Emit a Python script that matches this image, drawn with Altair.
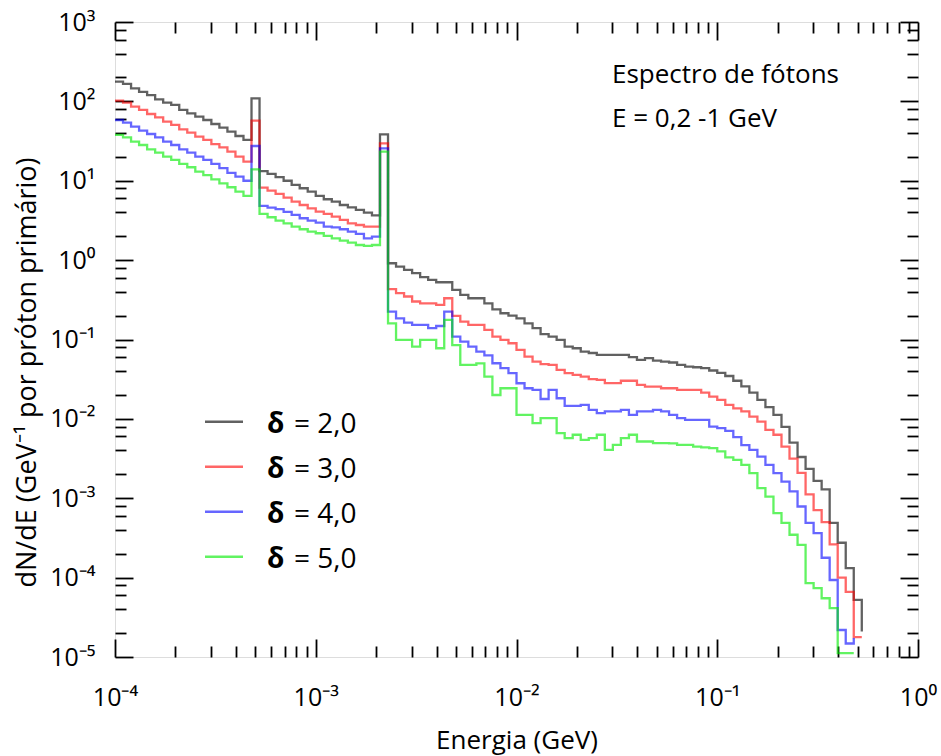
import altair as alt
import numpy as np
import pandas as pd

# ---------------- data ----------------
series_names = ["δ = 2,0", "δ = 3,0", "δ = 4,0", "δ = 5,0"]
series_colors = ["rgba(0,0,0,0.62)", "rgba(255,0,0,0.6)", "rgba(0,0,255,0.6)", "rgba(0,235,0,0.62)"]

# histogram binning: 100 logarithmic bins between 1e-4 and 1 GeV
bin_edges = np.logspace(-4, 0, 101)

# bin contents (dN/dE) ; last entry = end point of the step line
black = [177, 166, 146, 132, 120, 106, 96.4, 90.2, 78.0, 70.8, 64.1, 58.3, 51.9, 46.7, 41.5, 36.6, 32.7,
         109,
         13.2, 12.2, 11.1, 10.0, 8.85, 8.04, 7.29, 6.44, 5.85, 5.46, 4.95, 4.63, 4.29, 3.97, 3.67,
         38.5,
         0.914, 0.828, 0.753, 0.684, 0.610, 0.564, 0.526, 0.526, 0.422, 0.365, 0.331, 0.331, 0.286, 0.240,
         0.214, 0.200, 0.185, 0.160, 0.139,
         0.117, 0.109, 0.0989, 0.0813, 0.0776, 0.0705, 0.0676, 0.0640, 0.0640, 0.0640, 0.0640, 0.0598,
         0.0553, 0.0581, 0.0543, 0.0527, 0.0513, 0.0479, 0.0456, 0.0447,
         0.0435, 0.0407, 0.0380, 0.0347, 0.0302, 0.0257, 0.0214, 0.0174, 0.0141, 0.0112, 0.00794, 0.00501,
         0.00331, 0.00234, 0.00166, 0.00129, 0.000490, 0.000275, 0.000132, 0.0000525,
         0.0000209]
red = [102, 96.4, 85.9, 78.0, 69.3, 63.0, 55.6, 50.5, 44.5, 40.4, 36.0, 32.7, 29.0, 26.4, 23.3, 20.1, 17.4,
       57.1,
       8.18, 7.52, 6.82, 6.14, 5.46, 4.95, 4.50, 4.08, 3.82, 3.53, 3.21, 2.91, 2.77, 2.64, 2.64,
       29.6,
       0.431, 0.383, 0.348, 0.301, 0.286, 0.286, 0.273, 0.331, 0.198, 0.168, 0.153, 0.153, 0.132, 0.109,
       0.0989, 0.0897, 0.0740, 0.0610, 0.0527,
       0.0490, 0.0479, 0.0414, 0.0376, 0.0358, 0.0341, 0.0316, 0.0310, 0.0282, 0.0282, 0.0302, 0.0302,
       0.0268, 0.0255, 0.0255, 0.0243, 0.0243, 0.0232, 0.0232, 0.0232,
       0.0214, 0.0191, 0.0174, 0.0150, 0.0136, 0.0124, 0.0107, 0.00925, 0.00726, 0.00631, 0.00447, 0.00316,
       0.00209, 0.00112, 0.000708, 0.000501, 0.000263, 0.000100, 0.0000661, 0.0000178,
       0.0000178]
blue = [58.3, 54.0, 48.1, 42.8, 38.8, 35.2, 31.1, 28.2, 24.9, 22.6, 20.1, 18.3, 16.3, 14.4, 12.6, 11.3, 10.0,
        27.4,
        4.82, 4.59, 4.38, 4.05, 3.71, 3.37, 3.15, 2.97, 2.64, 2.59, 2.45, 2.29, 2.14, 1.88, 1.98,
        25.6,
        0.224, 0.185, 0.163, 0.153, 0.153, 0.139, 0.148, 0.224, 0.109, 0.0942, 0.0815, 0.0705, 0.0631,
        0.0502, 0.0435, 0.0376, 0.0281, 0.0243, 0.0232,
        0.0178, 0.0232, 0.0182, 0.0146, 0.0146, 0.0150, 0.0130, 0.0118, 0.0124, 0.0124, 0.0130, 0.0112,
        0.0124, 0.0124, 0.0130, 0.0124, 0.0112, 0.0102, 0.00970, 0.00970,
        0.00970, 0.00800, 0.00764, 0.00708, 0.00589, 0.00468, 0.00407, 0.00335, 0.00263, 0.00207, 0.00162,
        0.00122, 0.000787, 0.000490, 0.000363, 0.000178, 0.0000933, 0.0000219, 0.0000148,
        0.0000174]
green = [37.8, 35.2, 31.1, 28.2, 24.9, 22.6, 20.1, 18.3, 16.3, 14.8, 13.0, 11.8, 10.4, 9.29, 8.28, 7.29, 6.43,
         13.9,
         3.82, 3.47, 3.15, 2.91, 2.64, 2.45, 2.29, 2.18, 2.02, 1.88, 1.76, 1.66, 1.55, 1.51, 1.55,
         23.3,
         0.160, 0.0989, 0.0989, 0.0815, 0.0989, 0.0989, 0.0776, 0.177, 0.0851, 0.0479, 0.0479, 0.0501,
         0.0341, 0.0200, 0.0243, 0.0243, 0.0112, 0.0112, 0.00883,
         0.0102, 0.0102, 0.00661, 0.00571, 0.00631, 0.00545, 0.00571, 0.00631, 0.00407, 0.00471, 0.00571,
         0.00631, 0.00519, 0.00519, 0.00494, 0.00494, 0.00490, 0.00471, 0.00471, 0.00447,
         0.00437, 0.00427, 0.00389, 0.00327, 0.00305, 0.00263, 0.00207, 0.00134, 0.00105, 0.000649,
         0.000490, 0.000347, 0.000259, 0.0000851, 0.0000736, 0.0000550, 0.0000412, 0.0000112, 0.0000112,
         0.0000112]

annotation_lines = ["Espectro de fótons", "E = 0,2 -1 GeV"]
x_title = "Energia (GeV)"
y_title = "dN/dE (GeV⁻¹ por próton primário)"

# axis tick values
x_major = [1e-4, 1e-3, 1e-2, 1e-1, 1.0]
y_major = [1e-5, 1e-4, 1e-3, 1e-2, 1e-1, 1.0, 1e1, 1e2, 1e3]
x_minor = [m * 10.0 ** k for k in range(-4, 0) for m in range(2, 10)]
y_minor = [m * 10.0 ** k for k in range(-5, 3) for m in (2, 4, 6, 8)]

# ---------------- tables ----------------
rows = []
for name, vals in zip(series_names, [black, red, blue, green]):
    for i, v in enumerate(vals):
        rows.append({"E": float(bin_edges[i]), "dNdE": float(v), "serie": name})
df = pd.DataFrame(rows)

legend_df = pd.DataFrame({
    "serie": series_names,
    "simbolo": [n.split(" ", 1)[0] for n in series_names],
    "resto": [n.split(" ", 1)[1] for n in series_names],
})

FONT = "Open Sans"
xs = alt.Scale(type="log", domain=[1e-4, 1.0], nice=False)
ys = alt.Scale(type="log", domain=[1e-5, 1e3], nice=False)
color_scale = alt.Scale(domain=series_names, range=series_colors)

sup = "['⁰','¹','²','³','⁴','⁵','⁶','⁷','⁸','⁹']"
lab_expr = ("'10' + (round(log(datum.value)/LN10) < 0 ? '⁻' : '') + "
            + sup + "[abs(round(log(datum.value)/LN10))]")

x_main = alt.Axis(orient="bottom", values=x_major, labelExpr=lab_expr, ticks=False, domain=False,
                  grid=False, labelFont=FONT, labelFontSize=25, labelColor="black", labelPadding=28,
                  labelFlush=False, labelOverlap=False,
                  title=x_title, titleFont=FONT, titleFontSize=26, titleFontWeight="normal",
                  titleColor="black", titleY=91, titleBaseline="alphabetic")
y_main = alt.Axis(orient="left", values=y_major, labelExpr=lab_expr, ticks=False, domain=False,
                  grid=False, labelFont=FONT, labelFontSize=25, labelColor="black", labelPadding=20,
                  labelFlush=False, labelOverlap=False,
                  title=y_title, titleFont=FONT, titleFontSize=27, titleFontWeight="normal",
                  titleColor="black", titleX=-88, titleY=350, titleAngle=270,
                  titleAlign="center", titleBaseline="middle")


def tick_axis(orient, values, size):
    return alt.Axis(orient=orient, values=values, labels=False, domain=False, grid=False,
                    ticks=True, tickSize=alt.ExprRef(expr=str(-size)), tickWidth=1.8,
                    tickColor="black", title=None)


lines = alt.Chart(df).mark_line(interpolate="step-after", strokeWidth=2.3, clip=True).encode(
    x=alt.X("E:Q", scale=xs, axis=x_main),
    y=alt.Y("dNdE:Q", scale=ys, axis=y_main),
    color=alt.Color("serie:N", scale=color_scale, legend=None),
)

base = alt.Chart(df).mark_line(opacity=0)
t_minor_bl = base.encode(x=alt.X("E:Q", scale=xs, axis=tick_axis("bottom", x_minor, 11)),
                         y=alt.Y("dNdE:Q", scale=ys, axis=tick_axis("left", y_minor, 11)))
t_major_bl = base.encode(x=alt.X("E:Q", scale=xs, axis=tick_axis("bottom", x_major, 18)),
                         y=alt.Y("dNdE:Q", scale=ys, axis=tick_axis("left", y_major, 18)))
t_minor_tr = base.encode(x=alt.X("E:Q", scale=xs, axis=tick_axis("top", x_minor, 11)),
                         y=alt.Y("dNdE:Q", scale=ys, axis=tick_axis("right", y_minor, 11)))
t_major_tr = base.encode(x=alt.X("E:Q", scale=xs, axis=tick_axis("top", x_major, 18)),
                         y=alt.Y("dNdE:Q", scale=ys, axis=tick_axis("right", y_major, 18)))

# legend drawn inside the plot (bold delta, regular rest)
leg_y = alt.Y("serie:N", scale=alt.Scale(type="point", domain=series_names, range=[399.7, 534.7], padding=0),
              axis=None)
leg_rule = alt.Chart(legend_df).mark_rule(strokeWidth=2.6).encode(
    x=alt.value(90), x2=alt.value(128), y=leg_y,
    color=alt.Color("serie:N", scale=color_scale, legend=None))
leg_sym = alt.Chart(legend_df).mark_text(
    align="left", baseline="alphabetic", dy=11, font=FONT, fontSize=28, fontWeight="bold", color="black"
).encode(x=alt.value(152), y=leg_y, text="simbolo:N")
leg_txt = alt.Chart(legend_df).mark_text(
    align="left", baseline="alphabetic", dy=11, font=FONT, fontSize=28, color="black"
).encode(x=alt.value(179), y=leg_y, text="resto:N")

annot = alt.Chart(pd.DataFrame({"t": [0]})).mark_text(
    text=annotation_lines, align="left", baseline="alphabetic", font=FONT, fontSize=26,
    lineHeight=43.5, color="black"
).encode(x=alt.value(497), y=alt.value(61))

chart = (
    alt.layer(lines, t_minor_bl, t_major_bl, t_minor_tr, t_major_tr, leg_rule, leg_sym, leg_txt, annot)
    .resolve_scale(y="independent")
    .resolve_axis(x="independent", y="independent")
    .properties(width=803, height=635, autosize=alt.AutoSizeParams(type="none"),
                padding={"left": 115, "top": 22, "right": 23, "bottom": 99})
    .configure_view(stroke="black", strokeWidth=2)
    .configure(font=FONT)
)

chart.save("out.html", embed_options={"renderer": "svg", "actions": False})
